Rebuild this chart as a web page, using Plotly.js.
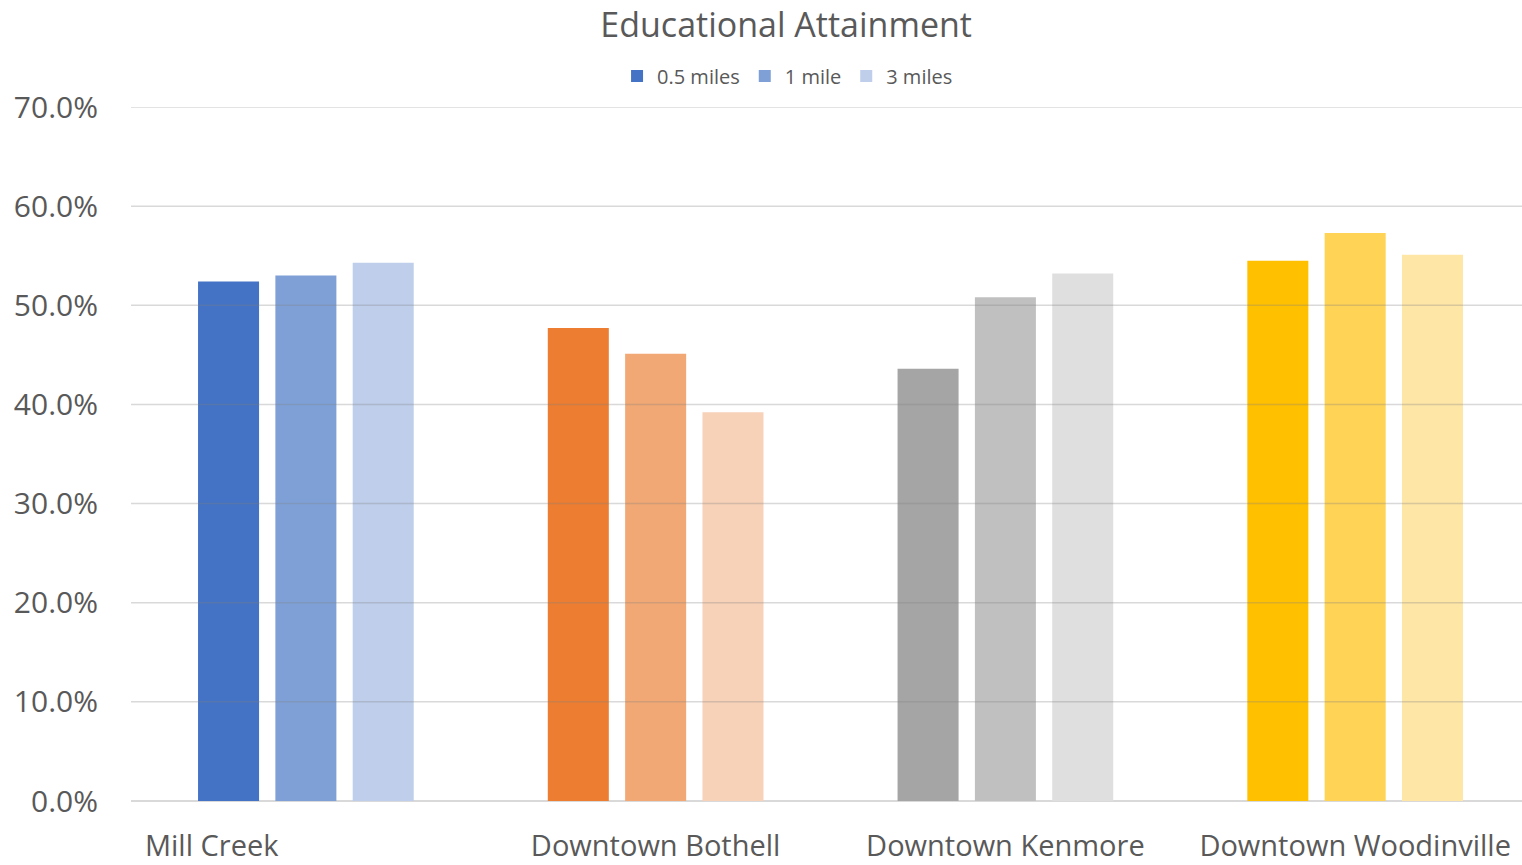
<!DOCTYPE html>
<html>
<head>
<meta charset="utf-8">
<script src="https://cdn.plot.ly/plotly-3.0.1.min.js"></script>
<style>
  html, body { margin: 0; padding: 0; background: #ffffff; overflow: hidden; }
  #chart { width: 1522px; height: 865px; }
</style>
</head>
<body>
<div id="chart"></div>
<script>
// Share of adults with a bachelor's degree or higher, by distance ring
const places = ["Mill Creek", "Downtown Bothell", "Downtown Kenmore", "Downtown Woodinville"];
const placeLabels = ["Mill Creek\u00a0\u00a0\u00a0\u00a0\u00a0\u00a0\u00a0\u00a0\u00a0\u00a0\u00a0\u00a0\u00a0\u00a0\u00a0\u00a0\u00a0\u00a0\u00a0\u00a0\u00a0\u00a0\u00a0\u00a0\u00a0",
                     "Downtown Bothell", "Downtown Kenmore", "Downtown Woodinville"];
const rings = ["0.5 miles", "1 mile", "3 miles"];
// values per ring, across places
const halfMile  = [0.524, 0.477, 0.436, 0.545];
const oneMile   = [0.530, 0.451, 0.508, 0.573];
const threeMile = [0.543, 0.392, 0.532, 0.551];
const ringValues = [halfMile, oneMile, threeMile];
const yTicks = [0, 0.1, 0.2, 0.3, 0.4, 0.5, 0.6, 0.7];

// each place keeps its own hue; rings go from full to light
const ringColors = [
  ["#4472C4", "#ED7D31", "#A5A5A5", "#FFC000"],
  ["#7FA0D7", "#F2A874", "#C0C0C0", "#FFD355"],
  ["#BFCEEB", "#F7D2B8", "#DFDFDF", "#FEE6A7"]
];

const traces = rings.map((name, i) => ({
  type: "bar",
  name: name,
  x: places,
  y: ringValues[i],
  marker: { color: ringColors[i], line: { width: 0 } },
  hovertemplate: "%{x}<br>" + name + ": %{y:.1%}<extra></extra>"
}));

// gridlines sit over the bars
const gridShapes = yTicks.slice(1).map(v => ({
  type: "line", xref: "paper", yref: "y",
  x0: 0, x1: 1, y0: v, y1: v,
  layer: "above",
  line: { color: "rgba(128,128,128,0.3)", width: 1.5 }
}));

const font = "'Open Sans', 'Noto Sans', 'DejaVu Sans', sans-serif";

const layout = {
  width: 1522, height: 865,
  paper_bgcolor: "#ffffff", plot_bgcolor: "#ffffff",
  margin: { l: 131, r: 0, t: 107, b: 64 },
  font: { family: font, color: "#595959" },
  title: {
    text: "Educational Attainment",
    font: { family: font, size: 34, color: "#595959" },
    x: 0.471, xref: "paper", xanchor: "center",
    y: 1 - 25 / 865, yref: "container", yanchor: "middle"
  },
  showlegend: true,
  legend: {
    orientation: "h",
    x: 0.472, xanchor: "center",
    y: 1.0447, yanchor: "middle",
    font: { family: font, size: 20, color: "#595959" },
    itemwidth: 30, traceorder: "normal"
  },
  barmode: "group",
  bargap: 0.3367,
  bargroupgap: 0.211,
  xaxis: {
    type: "category",
    range: [-0.5, 3.477],
    tickmode: "array", tickvals: places, ticktext: placeLabels,
    showgrid: false, zeroline: false,
    showline: false,
    ticks: "outside", ticklen: 19, tickcolor: "rgba(0,0,0,0)",
    tickfont: { family: font, size: 29, color: "#595959" },
    fixedrange: true
  },
  yaxis: {
    range: [0, 0.7],
    tickmode: "array", tickvals: yTicks,
    tickformat: ".1%",
    showgrid: false,
    zeroline: true, zerolinecolor: "#D9D9D9", zerolinewidth: 2,
    showline: false,
    ticks: "outside", ticklen: 26, tickcolor: "rgba(0,0,0,0)",
    tickfont: { family: font, size: 30, color: "#595959" },
    fixedrange: true
  },
  shapes: gridShapes
};

Plotly.newPlot("chart", traces, layout, { displayModeBar: false, staticPlot: true });
</script>
</body>
</html>
